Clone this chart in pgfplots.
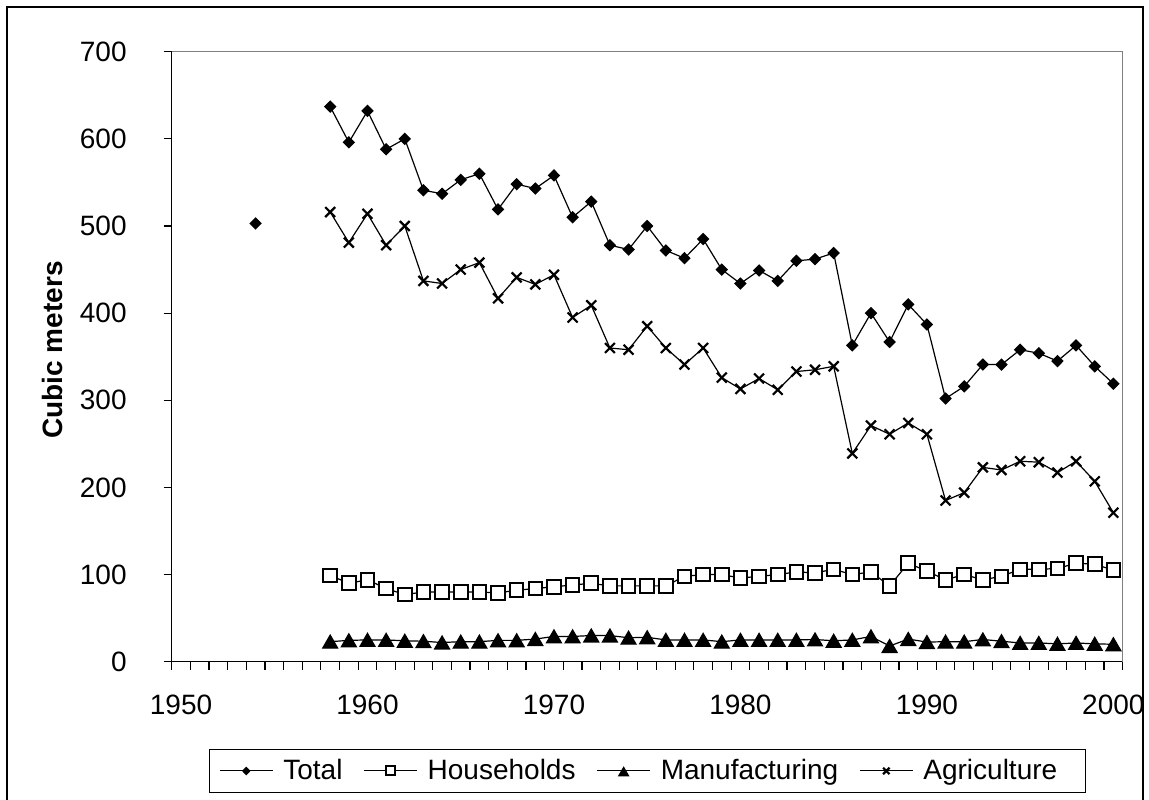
\documentclass[border=0pt]{standalone}
\usepackage{pgfplots}
\pgfplotsset{compat=1.18}
\usepackage{fontspec}
\setmainfont{Liberation Sans}
\begin{document}
\begin{tikzpicture}
\useasboundingbox (0,0) rectangle (574.5pt,399.5pt);
\draw[line width=0.8pt] (3.5pt,-10pt) -- (3.5pt,396pt) -- (571.5pt,396pt) -- (571.5pt,-10pt);
\node[rotate=90,font=\fontsize{14}{16}\selectfont\bfseries] at (26pt,224.5pt) {Cubic meters};
\begin{axis}[
  at={(85.85pt,68.65pt)}, anchor=south west,
  scale only axis, width=475.5pt, height=305pt,
  xmin=1949.5, xmax=2000.5, ymin=0, ymax=700,
  axis line style={draw=none},
  clip=false,
  unbounded coords=jump,
  tick align=outside,
  tick pos=left,
  major tick length=0pt,
  minor tick length=4pt,
  every tick/.style={black, line width=0.6pt},
  every minor tick/.style={black, line width=0.6pt},
  ytick={0,100,...,700},
  minor ytick={0,100,...,700},
  xtick={1950,1960,...,2000},
  minor xtick={1949.5,1950.5,...,2000.5},
  /pgf/number format/assume math mode=true,
  /pgf/number format/1000 sep={},
  tick label style={font=\fontsize{14}{16}\selectfont},
  xticklabel style={yshift=-13pt},
  yticklabel style={xshift=-19pt},
  legend columns=4,
  legend style={at={(0.5,-0.179)}, anchor=center, draw=black, line width=0.5pt,
    font=\fontsize{14}{16}\selectfont, inner xsep=5pt, inner ysep=3pt,
    /tikz/every odd column/.append style={column sep=5pt},
    /tikz/every even column/.append style={column sep=10.5pt},
    nodes={inner xsep=0pt, inner ysep=2pt}},
  legend image code/.code={\draw[mark repeat=2,mark phase=2,#1,every mark/.append style={scale=0.65}] plot coordinates {(0pt,0pt) (13.25pt,0pt) (26.5pt,0pt)};},
]
\draw[black,line width=0.6pt] (rel axis cs:0,1) -- (rel axis cs:0,0) -- (rel axis cs:1,0);
\draw[gray,line width=0.6pt] (rel axis cs:0,1) -- (rel axis cs:1,1) -- (rel axis cs:1,0);

\addplot[black, line width=0.6pt, mark=diamond*, mark size=2.7pt,
  mark options={solid, fill=black, xscale=1.33}] coordinates {
(1954,503) (1955,nan)
(1958,637) (1959,596) (1960,632) (1961,588) (1962,600) (1963,541) (1964,537)
(1965,553) (1966,560) (1967,519) (1968,548) (1969,543) (1970,558) (1971,510)
(1972,528) (1973,478) (1974,473) (1975,500) (1976,472) (1977,463) (1978,485)
(1979,450) (1980,434) (1981,449) (1982,437) (1983,460) (1984,462) (1985,469)
(1986,363) (1987,400) (1988,367) (1989,410) (1990,387) (1991,302) (1992,316)
(1993,341) (1994,341) (1995,358) (1996,354) (1997,345) (1998,363) (1999,339)
(2000,319)};
\addlegendentry{Total}

\addplot[black, line width=0.6pt, mark=square*, mark size=3.4pt,
  mark options={solid, fill=white, draw=black, line width=1pt}] coordinates {
(1958,99) (1959,90) (1960,94) (1961,84) (1962,77) (1963,80) (1964,80)
(1965,80) (1966,80) (1967,79) (1968,82) (1969,84) (1970,86) (1971,88)
(1972,90) (1973,87) (1974,87) (1975,87) (1976,87) (1977,98) (1978,100)
(1979,100) (1980,96) (1981,98) (1982,100) (1983,103) (1984,102) (1985,106)
(1986,100) (1987,103) (1988,87) (1989,113) (1990,104) (1991,94) (1992,100)
(1993,94) (1994,98) (1995,106) (1996,106) (1997,107) (1998,113) (1999,112)
(2000,105)};
\addlegendentry{Households}

\addplot[black, line width=0.6pt, mark=triangle*, mark size=4.3pt,
  mark options={solid, fill=black, yshift=-1.05pt}] coordinates {
(1958,23) (1959,24.5) (1960,25) (1961,25) (1962,24) (1963,23.5) (1964,22)
(1965,23) (1966,23) (1967,24.5) (1968,24.5) (1969,26) (1970,29) (1971,29)
(1972,30) (1973,30) (1974,27.5) (1975,28) (1976,25) (1977,25) (1978,25)
(1979,23) (1980,25) (1981,25) (1982,25) (1983,25) (1984,25.5) (1985,24)
(1986,25) (1987,29) (1988,18) (1989,26) (1990,22.5) (1991,23) (1992,23)
(1993,25.5) (1994,23.5) (1995,21.5) (1996,21.5) (1997,20.5) (1998,21.5) (1999,20.5)
(2000,20)};
\addlegendentry{Manufacturing}

\addplot[black, line width=0.6pt, mark=x, mark size=3.5pt,
  mark options={solid, line width=1.1pt}] coordinates {
(1958,516) (1959,481) (1960,514) (1961,478) (1962,500) (1963,437) (1964,434)
(1965,450) (1966,458) (1967,417) (1968,441) (1969,433) (1970,444) (1971,395)
(1972,409) (1973,360) (1974,358) (1975,385) (1976,360) (1977,341) (1978,360)
(1979,326) (1980,313) (1981,325) (1982,312) (1983,333) (1984,335) (1985,339)
(1986,239) (1987,271) (1988,261) (1989,274) (1990,261) (1991,185) (1992,194)
(1993,223) (1994,220) (1995,230) (1996,229) (1997,217) (1998,230) (1999,207)
(2000,171)};
\addlegendentry{Agriculture\hspace*{9pt}}
\end{axis}
\end{tikzpicture}
\end{document}
